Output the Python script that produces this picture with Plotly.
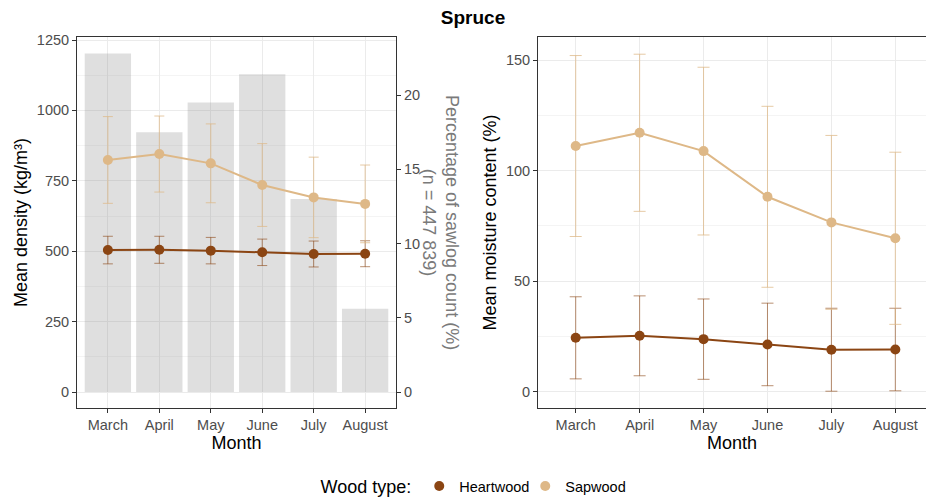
import plotly.graph_objects as go

# ---------------- data ----------------
months = ["March", "April", "May", "June", "July", "August"]
sawlog_pct = [22.8, 17.5, 19.5, 21.4, 13.0, 5.6]

density_heart = [504, 505, 502, 496, 490, 491]
density_heart_sd = [49, 48, 47, 47, 46, 46]
density_sap = [824, 845, 812, 735, 691, 668]
density_sap_sd = [154, 135, 140, 147, 143, 138]

moist_heart = [24.3, 25.2, 23.7, 21.3, 18.9, 19.0]
moist_heart_sd = [18.6, 18.1, 18.2, 18.7, 18.8, 18.7]
moist_sap = [111.2, 117.2, 108.9, 88.2, 76.6, 69.4]
moist_sap_sd = [41.0, 35.6, 38.0, 41.0, 39.4, 39.0]

wood_types = ["Heartwood", "Sapwood"]
colors = {"Heartwood": "#8B4513", "Sapwood": "#DEB887"}
err_colors = {"Heartwood": "rgba(139,69,19,0.6)", "Sapwood": "rgba(222,184,135,0.75)"}

W, H = 926, 504
FONT = "Liberation Sans, Arial, sans-serif"
TICKC = "#4d4d4d"
GRID = "#ebebeb"
MINOR = "#f4f4f4"
LINE = "#333333"

fig = go.Figure()

# bars: percentage of sawlog count (base y axis, right side)
fig.add_trace(go.Bar(
    x=months, y=sawlog_pct, xaxis="x", yaxis="y",
    marker=dict(color="rgba(128,128,128,0.25)", line=dict(width=0)),
    width=0.9, showlegend=False, hoverinfo="skip"))

dens = {"Heartwood": (density_heart, density_heart_sd), "Sapwood": (density_sap, density_sap_sd)}
moist = {"Heartwood": (moist_heart, moist_heart_sd), "Sapwood": (moist_sap, moist_sap_sd)}

for wt in wood_types:
    v, sd = dens[wt]
    fig.add_trace(go.Scatter(
        x=months, y=v, xaxis="x", yaxis="y2", mode="lines+markers",
        line=dict(color=colors[wt], width=2),
        marker=dict(color=colors[wt], size=10),
        error_y=dict(type="data", array=sd, visible=True, color=err_colors[wt], thickness=1, width=5),
        showlegend=False, name=wt))
for wt in wood_types:
    v, sd = moist[wt]
    fig.add_trace(go.Scatter(
        x=months, y=v, xaxis="x2", yaxis="y3", mode="lines+markers",
        line=dict(color=colors[wt], width=2),
        marker=dict(color=colors[wt], size=10),
        error_y=dict(type="data", array=sd, visible=True, color=err_colors[wt], thickness=1, width=6),
        showlegend=False, name=wt))
# legend-only entries
for wt in wood_types:
    fig.add_trace(go.Scatter(
        x=[None], y=[None], xaxis="x2", yaxis="y3", mode="markers",
        marker=dict(color=colors[wt], size=10), name=wt, showlegend=True))

ydom = [1 - 408 / H, 1 - 37 / H]
tickfont = dict(family=FONT, size=14.5, color=TICKC)
titlefont = dict(family=FONT, size=18, color="black")

common_x = dict(
    type="category", showline=True, linecolor=LINE, linewidth=1, mirror=True,
    ticks="outside", ticklen=4, tickcolor=LINE, tickwidth=1, automargin=False,
    showgrid=True, gridcolor=GRID, gridwidth=1, zeroline=False,
    tickfont=tickfont, title=dict(text="Month", font=titlefont, standoff=2),
)

fig.update_layout(
    width=W, height=H,
    margin=dict(l=0, r=0, t=0, b=0),
    paper_bgcolor="white", plot_bgcolor="white",
    font=dict(family=FONT),
    bargap=0.1,
    xaxis=dict(common_x, domain=[77 / W, 396 / W], range=[-0.6, 5.6], anchor="y"),
    xaxis2=dict(common_x, domain=[538 / W, 1.0], range=[-0.59, 5.48], anchor="y3"),
    yaxis=dict(
        domain=ydom, anchor="x", side="right", range=[-16 / 14.85, 355 / 14.85],
        tickvals=[0, 5, 10, 15, 20], showgrid=False, zeroline=False, automargin=False,
        showline=False, ticks="outside", ticklen=4, tickcolor=LINE, tickfont=tickfont),
    yaxis2=dict(
        domain=ydom, anchor="x", overlaying="y", side="left", automargin=False,
        range=[-16 / 0.2816, 355 / 0.2816], tickvals=[0, 250, 500, 750, 1000, 1250],
        showgrid=True, gridcolor=GRID, gridwidth=1, zeroline=False,
        minor=dict(tickvals=[125, 375, 625, 875, 1125], showgrid=True, gridcolor=MINOR, gridwidth=1, ticks=""),
        showline=True, linecolor=LINE, linewidth=1, mirror=True,
        ticks="outside", ticklen=4, tickcolor=LINE, tickfont=tickfont,
        title=dict(text="Mean density (kg/m³)", font=titlefont, standoff=4)),
    yaxis3=dict(
        domain=ydom, anchor="x2", range=[-7.5, 160.6], automargin=False,
        tickvals=[0, 50, 100, 150],
        showgrid=True, gridcolor=GRID, gridwidth=1, zeroline=False,
        minor=dict(tickvals=[25, 75, 125], showgrid=True, gridcolor=MINOR, gridwidth=1, ticks=""),
        showline=True, linecolor=LINE, linewidth=1, mirror=True,
        ticks="outside", ticklen=4, tickcolor=LINE, tickfont=tickfont,
        title=dict(text="Mean moisture content (%)", font=titlefont, standoff=4)),
    legend=dict(
        orientation="h", x=475 / W, xanchor="center", y=1 - 487 / H, yanchor="middle",
        entrywidth=61, entrywidthmode="pixels",
        title=dict(text="Wood type:", font=dict(family=FONT, size=18, color="black")),
        font=dict(family=FONT, size=14.5, color="black"), bgcolor="rgba(0,0,0,0)"),
    title=dict(text="<b>Spruce</b>", x=473 / W, xanchor="center", y=1 - 17 / H, yanchor="middle",
               font=dict(family=FONT, size=19, color="black")),
    annotations=[dict(
        text="Percentage of sawlog count (%)<br>(n = 447 839)", textangle=90,
        xref="paper", yref="paper", x=441 / W, y=1 - 222 / H, xanchor="center", yanchor="middle",
        showarrow=False, font=dict(family=FONT, size=18, color="#7a7a7a"))],
)

fig.write_html("out.html", config={"displayModeBar": False},
               post_script="document.body.style.margin='0';document.body.style.overflow='hidden';")
